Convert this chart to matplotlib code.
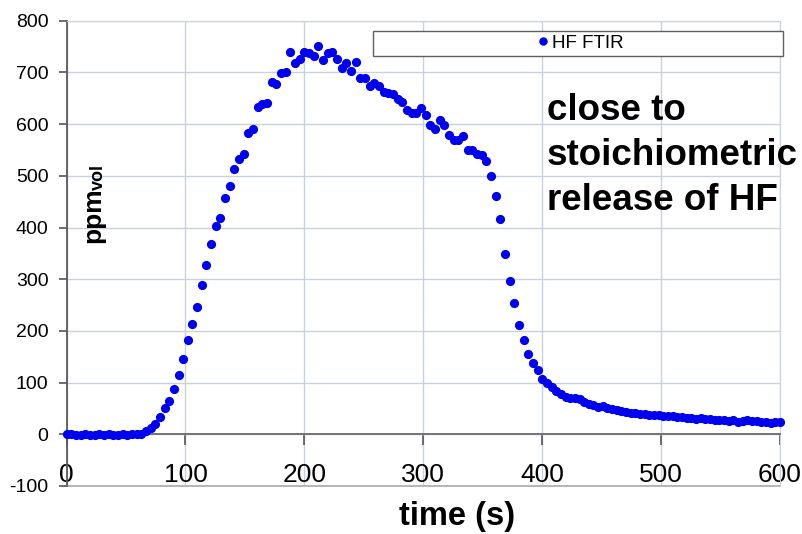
import matplotlib
matplotlib.use('Agg')
import matplotlib.pyplot as plt
import numpy as np
from matplotlib.patches import Rectangle

plt.rcParams['font.family'] = ['Liberation Sans', 'DejaVu Sans']
plt.rcParams['axes.unicode_minus'] = False

# HF concentration (ppm vol), one sample every ~3.9 s
hf_ppm = [1, 0, -1, -1, 0, -2, -1, 0, -1, 0, -1, -1, 0, -1, 0, 0,
          1, 6, 12, 20, 34, 50, 64, 87, 115, 146, 182, 214, 247, 289, 327, 368,
          402, 418, 457, 480, 514, 533, 543, 582, 590, 633, 639, 640, 681, 678, 698, 700, 740, 719, 725, 739,
          737, 732, 752, 724, 737, 740, 725, 708, 719, 702, 720, 689, 689, 674, 679, 674, 662, 660, 658, 648,
          643, 628, 621, 621, 632, 617, 598, 590, 608, 598, 578, 569, 570, 577, 550, 550, 543, 540, 529, 499,
          460, 416, 349, 296, 254, 212, 182, 156, 138, 124,
          106, 100, 92, 84, 78, 73, 70, 70, 68, 62, 58, 56, 53, 54, 50, 48, 47, 45, 44, 42,
          42, 40, 39, 38, 38, 37, 36, 36, 35, 34, 33, 32, 32, 30, 31, 29, 30, 28, 27, 28,
          26, 27, 24, 25, 27, 26, 25, 23, 24, 22, 23, 24]
time_s = np.linspace(0, 600, len(hf_ppm))

xticks = [0, 100, 200, 300, 400, 500, 600]
yticks = [-100, 0, 100, 200, 300, 400, 500, 600, 700, 800]
note_lines = ['close to', 'stoichiometric', 'release of HF']

fig = plt.figure(figsize=(8.03, 5.34), dpi=100)
ax = fig.add_axes([66.6/803, 1-486/534, 713.4/803, 465.3/534])

ax.plot(time_s, hf_ppm, 'o', ms=5.6, color='#0000ee', mec='#0000ee', label='HF FTIR',
        clip_on=False, zorder=3)

ax.set_xlim(0, 600)
ax.set_ylim(-100, 800)
ax.set_xticks(xticks)
ax.set_yticks(yticks)
ax.grid(True, color='#c9d1dc', lw=1)
ax.set_axisbelow(True)

ax.spines['bottom'].set_position(('data', 0))
ax.spines['bottom'].set_color('#6a6a6a')
ax.spines['bottom'].set_linewidth(1.3)
ax.spines['left'].set_color('#5a5a5a')
ax.spines['left'].set_linewidth(1.3)
for s in ['top', 'right']:
    ax.spines[s].set_color('#c9d1dc')
ax.axhline(-100, color='#b0b0b0', lw=1.3, clip_on=False)

ax.tick_params(axis='x', direction='out', length=8, width=1.2, color='#555555',
               labelsize=19, pad=13)
ax.tick_params(axis='y', direction='out', length=6, width=1.2, color='#555555',
               labelsize=14, pad=7)

# legend in a wide framed box
ax.add_patch(Rectangle((0.430, 0.925), 0.5746, 0.0535, transform=ax.transAxes,
                       facecolor='white', edgecolor='#606060', lw=1, clip_on=False, zorder=4))
ax.legend(loc='center', bbox_to_anchor=(0.7200, 0.9516), frameon=False, fontsize=13.5,
          handlelength=0.6, handletextpad=0.2, borderpad=0, markerscale=0.9)

# annotation
for txt, yv in zip(note_lines, [608, 521, 434]):
    ax.text(403.8, yv, txt, fontsize=26.5, fontweight='bold', ha='left', va='baseline')

# axis titles
ax.text(0.548, -0.0666, 'time (s)', transform=ax.transAxes, ha='center', va='center',
        fontsize=23.5, fontweight='bold')
ax.text(0.0468, 0.522, 'ppm', transform=ax.transAxes, rotation=90, rotation_mode='anchor',
        ha='left', va='baseline', fontsize=19, fontweight='bold')
ax.text(0.051, 0.636, 'vol', transform=ax.transAxes, rotation=90, rotation_mode='anchor',
        ha='left', va='baseline', fontsize=13, fontweight='bold')

fig.savefig('out.png', dpi=100)
